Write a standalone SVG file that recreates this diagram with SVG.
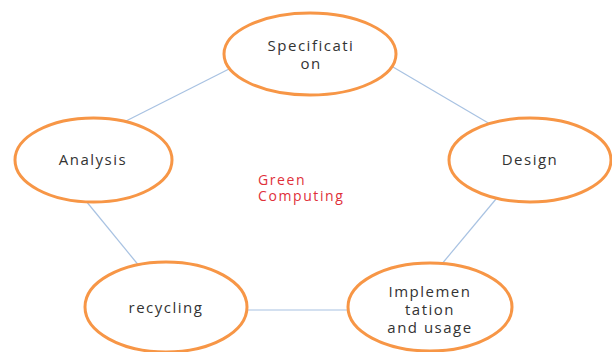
<svg xmlns="http://www.w3.org/2000/svg" width="612" height="352" viewBox="0 0 612 352">
<style>
.node ellipse{fill:#fff;stroke:#F79646;stroke-width:3}
.lbl{font-family:"Open Sans","Noto Sans",sans-serif;font-size:15px;fill:#333;text-anchor:middle;letter-spacing:1.5px}
.gc{font-family:"Open Sans","Noto Sans",sans-serif;font-size:14px;fill:#E0303A;letter-spacing:1.6px}
.conn line{stroke:#A8C2E2;stroke-width:1.2}
</style>
<rect width="612" height="352" fill="#fff"/>
<g id="connectors" class="conn">
<line x1="231" y1="68" x2="126" y2="121"/>
<line x1="393" y1="67" x2="490" y2="124"/>
<line x1="86" y1="201" x2="140" y2="267"/>
<line x1="496" y1="199" x2="441" y2="265"/>
<line x1="247" y1="310" x2="349" y2="310"/>
</g>
<g id="specification" class="node">
<ellipse cx="310" cy="54" rx="86" ry="41"/>
<text class="lbl" x="311" y="51">Specificati</text>
<text class="lbl" x="311" y="69">on</text>
</g>
<g id="analysis" class="node">
<ellipse cx="93.5" cy="160" rx="78.5" ry="42"/>
<text class="lbl" x="93" y="165">Analysis</text>
</g>
<g id="design" class="node">
<ellipse cx="530" cy="160" rx="81" ry="42"/>
<text class="lbl" x="530" y="165">Design</text>
</g>
<g id="implementation" class="node">
<ellipse cx="430" cy="307" rx="82" ry="44"/>
<text class="lbl" x="430" y="297">Implemen</text>
<text class="lbl" x="430" y="315">tation</text>
<text class="lbl" x="430" y="333">and usage</text>
</g>
<g id="recycling" class="node">
<ellipse cx="166" cy="307" rx="81" ry="45"/>
<text class="lbl" x="166" y="313">recycling</text>
</g>
<g id="center">
<text class="gc" x="258" y="185">Green</text>
<text class="gc" x="258" y="201">Computing</text>
</g>
</svg>
